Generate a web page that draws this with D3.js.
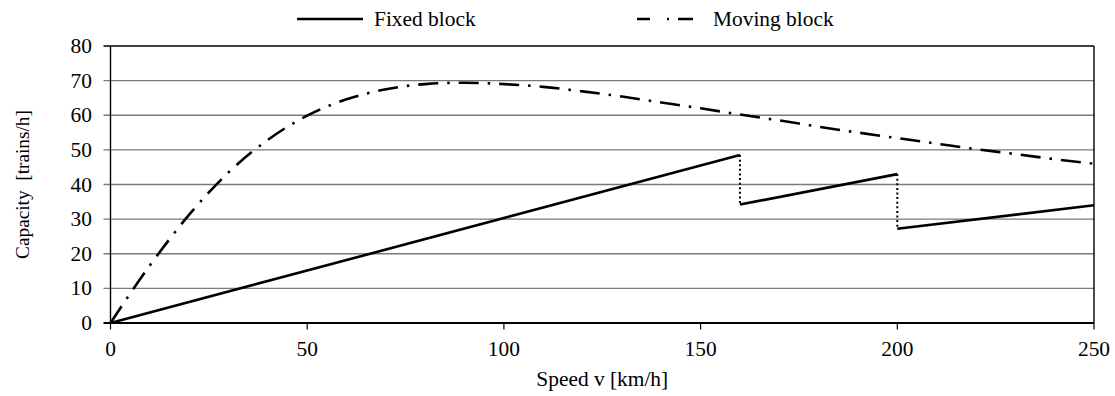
<!DOCTYPE html>
<html>
<head>
<meta charset="utf-8">
<script src="https://cdn.jsdelivr.net/npm/d3@7"></script>
<style>
  html, body { margin: 0; padding: 0; background: #fff; font-family: 'Liberation Serif', serif; }
</style>
</head>
<body>
<div id="chart"></div>
<script>
// values
const xTicks = [0, 50, 100, 150, 200, 250];
const yTicks = [0, 10, 20, 30, 40, 50, 60, 70, 80];

// fixed block: three rising pieces, joined by dotted drops
const fixedSpeed = [0, 160, 160, 200, 200, 250];
const fixedCap   = [0, 48.5, 34.2, 43, 27.2, 34];

// moving block curve
const movingSpeed = [0, 5, 10, 15, 20, 25, 30, 40, 50, 60, 70, 80, 90, 100, 110, 120,
                     130, 140, 150, 160, 170, 180, 190, 200, 210, 220, 230, 240, 250];
const movingCap   = [0, 8.5, 16.6, 24.2, 31.3, 37.7, 43.5, 52.9, 59.9, 64.6, 67.5, 69.0, 69.4, 69.0, 68.2, 66.9,
                     65.4, 63.7, 62.0, 60.2, 58.5, 56.7, 55.0, 53.4, 51.8, 50.2, 48.8, 47.3, 46.0];

const seriesNames = ["Fixed block", "Moving block"];

const width = 1115, height = 396;
const margin = { top: 46, right: 21, bottom: 73, left: 110.5 };
const fs = 20, stretch = 1.07;

const svg = d3.select("#chart").append("svg")
    .attr("width", width)
    .attr("height", height)
    .style("font-family", "'Liberation Serif', serif");

const x = d3.scaleLinear().domain([0, 250]).range([margin.left, width - margin.right]);
const y = d3.scaleLinear().domain([0, 80]).range([height - margin.bottom, margin.top]);

// horizontal text looks a bit wider than plain Times in the reference
function htext(g, tx, ty, str, anchor) {
  return g.append("text")
      .attr("transform", `translate(${tx},${ty}) scale(${stretch},1)`)
      .attr("text-anchor", anchor || "start")
      .style("font-family", "'Liberation Serif', serif")
      .style("font-size", fs + "px")
      .text(str);
}

// grid lines (extend left as ticks)
svg.append("g")
  .selectAll("line")
  .data(yTicks.filter(d => d > 0 && d < 80))
  .join("line")
    .attr("x1", x(0) - 7).attr("x2", x(250))
    .attr("y1", d => y(d)).attr("y2", d => y(d))
    .attr("stroke", "#7a7a7a")
    .attr("stroke-width", 1.4);

// frame
const frame = svg.append("g").attr("stroke", "#000").attr("fill", "none");
frame.append("line").attr("x1", x(0) - 7).attr("x2", x(250)).attr("y1", y(80)).attr("y2", y(80)).attr("stroke-width", 1.4);
frame.append("line").attr("x1", x(250)).attr("x2", x(250)).attr("y1", y(80)).attr("y2", y(0)).attr("stroke-width", 1.4);
frame.append("line").attr("x1", x(0)).attr("x2", x(0)).attr("y1", y(80)).attr("y2", y(0)).attr("stroke-width", 1.4);
frame.append("line").attr("x1", x(0) - 7).attr("x2", x(250)).attr("y1", y(0)).attr("y2", y(0)).attr("stroke-width", 2);

// x ticks
frame.selectAll("line.xt")
  .data(xTicks)
  .join("line")
    .attr("class", "xt")
    .attr("x1", d => x(d)).attr("x2", d => x(d))
    .attr("y1", y(0)).attr("y2", y(0) + 6.5)
    .attr("stroke-width", 1.2);

// tick labels
const labels = svg.append("g");
xTicks.forEach(d => htext(labels, x(d), 356, d, "middle"));
yTicks.forEach(d => htext(labels, 92, y(d) + 7, d, "end"));

// axis titles
htext(svg, (x(0) + x(250)) / 2, 386, "Speed v [km/h]", "middle");
svg.append("text")
    .attr("transform", `translate(29,${(y(0) + y(80)) / 2}) rotate(-90)`)
    .attr("text-anchor", "middle")
    .style("font-family", "'Liberation Serif', serif")
    .style("font-size", "19.3px")
    .style("white-space", "pre")
    .text("Capacity  [trains/h]");

// moving block
const movingLine = d3.line()
    .x((d, i) => x(movingSpeed[i]))
    .y(d => y(d))
    .curve(d3.curveMonotoneX);

svg.append("path")
    .attr("d", movingLine(movingCap))
    .attr("fill", "none")
    .attr("stroke", "#000")
    .attr("stroke-width", 2.6)
    .attr("stroke-dasharray", "20,9,2.5,9");

// fixed block
const fixedPts = fixedSpeed.map((v, i) => [x(v), y(fixedCap[i])]);
const fixedG = svg.append("g").attr("fill", "none").attr("stroke", "#000");
for (let i = 0; i < fixedPts.length - 1; i++) {
  const solid = i % 2 === 0;
  fixedG.append("path")
      .attr("d", d3.line()([fixedPts[i], fixedPts[i + 1]]))
      .attr("stroke-width", solid ? 2.6 : 2)
      .attr("stroke-dasharray", solid ? null : "2,2.6");
}

// legend
const legend = svg.append("g");
legend.append("line")
    .attr("x1", 297).attr("x2", 363).attr("y1", 19).attr("y2", 19)
    .attr("stroke", "#000").attr("stroke-width", 2.6);
htext(legend, 374, 26, seriesNames[0]);
legend.append("line")
    .attr("x1", 637).attr("x2", 693).attr("y1", 19).attr("y2", 19)
    .attr("stroke", "#000").attr("stroke-width", 2.6)
    .attr("stroke-dasharray", "13,17,2,9,15");
htext(legend, 713, 26, seriesNames[1]);
</script>
</body>
</html>
